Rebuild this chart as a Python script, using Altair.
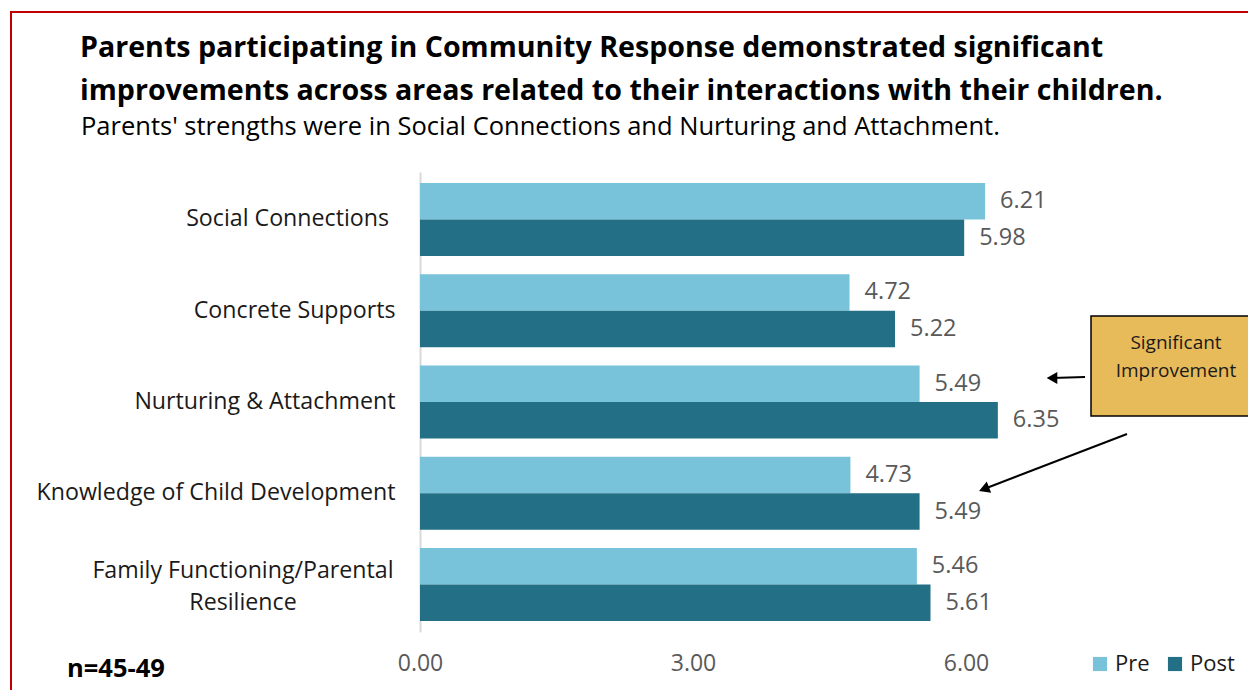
import altair as alt
import pandas as pd

# ---------------- data ----------------
categories = [
    "Social Connections",
    "Concrete Supports",
    "Nurturing & Attachment",
    "Knowledge of Child Development",
    "Family Functioning/Parental Resilience",
]
pre_values = [6.21, 4.72, 5.49, 4.73, 5.46]
post_values = [5.98, 5.22, 6.35, 5.49, 5.61]
series = ["Pre", "Post"]
series_colors = ["#78C3DA", "#237086"]
x_ticks = [0, 3, 6]

title_line1 = "Parents participating in Community Response demonstrated significant"
title_line2 = "improvements across areas related to their interactions with their children."
subtitle = "Parents' strengths were in Social Connections and Nurturing and Attachment."
note = "n=45-49"
callout_lines = ["Significant", "Improvement"]
wrapped_label = ["Family Functioning/Parental", "Resilience"]

FONT = "Open Sans"
LABEL_SIZE = 23.2
VALUE_SIZE = 23.5
TICK_SIZE = 23

rows = []
for c, a, b in zip(categories, pre_values, post_values):
    rows.append({"Category": c, "Series": "Pre", "Value": a})
    rows.append({"Category": c, "Series": "Post", "Value": b})
df = pd.DataFrame(rows)
one = pd.DataFrame({"k": [0]})

y_enc = alt.Y(
    "Category:N",
    sort=categories,
    scale=alt.Scale(paddingInner=0.2, paddingOuter=0.12),
    axis=alt.Axis(
        title=None,
        ticks=False,
        labelFontSize=LABEL_SIZE,
        labelFont=FONT,
        labelColor="#1a1a1a",
        labelPadding=25,
        labelLimit=420,
        domainColor="#D9D9D9",
        domainWidth=2,
        labelExpr=f"(datum.label == '{categories[0]}' || datum.label == '{categories[-1]}') ? '' : datum.label",
    ),
)
x_enc = alt.X(
    "Value:Q",
    scale=alt.Scale(domain=[0, 7], nice=False, zero=True),
    axis=alt.Axis(
        title=None,
        values=x_ticks,
        format=".2f",
        grid=False,
        ticks=False,
        domain=False,
        labelFlush=False,
        labelFontSize=TICK_SIZE,
        labelFont=FONT,
        labelColor="#595959",
        labelPadding=20,
    ),
)
yoff = alt.YOffset("Series:N", sort=series, scale=alt.Scale(paddingInner=0, paddingOuter=0))

bars = alt.Chart(df).mark_bar().encode(
    x=x_enc,
    y=y_enc,
    yOffset=yoff,
    color=alt.Color(
        "Series:N",
        sort=series,
        scale=alt.Scale(domain=series, range=series_colors),
        legend=alt.Legend(
            title=None,
            orient="none",
            legendX=669,
            legendY=481,
            direction="horizontal",
            symbolType="square",
            symbolSize=200,
            symbolStrokeWidth=0,
            symbolOpacity=1,
            labelFontSize=22,
            labelFont=FONT,
            labelColor="#1a1a1a",
            labelOffset=4,
            columnPadding=14,
            padding=0,
        ),
    ),
)

labels = alt.Chart(df).mark_text(
    align="left", baseline="middle", dx=15, fontSize=VALUE_SIZE, font=FONT, color="#595959"
).encode(
    x="Value:Q",
    y=alt.Y("Category:N", sort=categories),
    yOffset=yoff,
    text=alt.Text("Value:Q", format=".2f"),
)

# first label carries a trailing space in the original (sits a little left)
first_label = alt.Chart(df[df["Category"] == categories[0]].head(1)).mark_text(
    align="right", baseline="middle", fontSize=LABEL_SIZE, font=FONT, color="#1a1a1a"
).encode(
    x=alt.value(-31),
    y=alt.Y("Category:N", sort=categories),
    text="Category:N",
)

wrapped = alt.Chart(df[df["Category"] == categories[-1]].head(1)).mark_text(
    align="center", baseline="middle", fontSize=LABEL_SIZE, font=FONT, color="#1a1a1a",
    lineHeight=32, dy=-14
).encode(
    x=alt.value(-177),
    y=alt.Y("Category:N", sort=categories),
    text=alt.value(wrapped_label),
)

def txt(text, x, y, size, bold=False, align="left", color="#000000", baseline="alphabetic", lh=None):
    kw = dict(align=align, baseline=baseline, fontSize=size, font=FONT, color=color,
              fontWeight="bold" if bold else "normal")
    if lh:
        kw["lineHeight"] = lh
    return alt.Chart(one).mark_text(**kw).encode(
        x=alt.value(x), y=alt.value(y), text=alt.value(text)
    )

t1 = txt(title_line1, -340, -115, 28.6, bold=True)
t2 = txt(title_line2, -340, -72, 28.6, bold=True)
st = txt(subtitle, -339, -37, 25.5)
nt = txt(note, -353, 505, 25.5, bold=True)

border = alt.Chart(one).mark_rect(fill=None, stroke="#C00000", strokeWidth=2).encode(
    x=alt.value(-409), x2=alt.value(900), y=alt.value(-160), y2=alt.value(700)
)
box = alt.Chart(one).mark_rect(fill="#E8BB5A", stroke="#000000", strokeWidth=1.5).encode(
    x=alt.value(671), x2=alt.value(900), y=alt.value(144), y2=alt.value(244)
)
box_text = txt(callout_lines, 756, 171, 19, align="center", color="#1a1a1a", baseline="middle", lh=28)

arrow1 = alt.Chart(one).mark_rule(color="#000000", strokeWidth=2).encode(
    x=alt.value(665), x2=alt.value(632), y=alt.value(205), y2=alt.value(206)
)
head1 = alt.Chart(one).mark_point(shape="triangle-up", filled=True, size=150, color="#000000",
                                  opacity=1, angle=270).encode(
    x=alt.value(632), y=alt.value(206)
)
arrow2 = alt.Chart(one).mark_rule(color="#000000", strokeWidth=2).encode(
    x=alt.value(707), x2=alt.value(564), y=alt.value(262), y2=alt.value(317)
)
head2 = alt.Chart(one).mark_point(shape="triangle-up", filled=True, size=150, color="#000000",
                                  opacity=1, angle=249).encode(
    x=alt.value(564), y=alt.value(317)
)

chart = alt.layer(
    border, bars, labels, first_label, wrapped, t1, t2, st, nt, box, box_text,
    arrow1, head1, arrow2, head2
).properties(
    width=637,
    height=460,
    autosize=alt.AutoSizeParams(type="none"),
    padding={"left": 420, "top": 172, "right": 191, "bottom": 58},
    background="#ffffff",
).configure_view(stroke=None)

chart.save("out.html", embed_options={"renderer": "svg", "actions": False})
